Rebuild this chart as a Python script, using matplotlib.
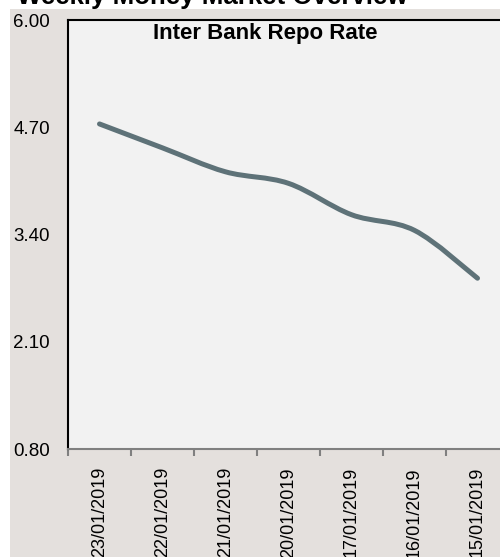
import matplotlib.pyplot as plt
from matplotlib.path import Path
from matplotlib.patches import PathPatch, Rectangle

plt.rcParams['font.family'] = ['Liberation Sans', 'DejaVu Sans']

dates = ["23/01/2019", "22/01/2019", "21/01/2019", "20/01/2019",
         "17/01/2019", "16/01/2019", "15/01/2019"]
repo_rate = [4.74, 4.45, 4.16, 4.02, 3.64, 3.45, 2.87]
y_ticks = [0.80, 2.10, 3.40, 4.70, 6.00]


def smooth_path(xs, ys):
    # Excel-style smoothed line: Catmull-Rom segments as cubic Beziers
    pts = list(zip(xs, ys))
    n = len(pts)
    verts = [pts[0]]
    codes = [Path.MOVETO]
    for i in range(n - 1):
        p0 = pts[i - 1] if i > 0 else pts[i]
        p1 = pts[i]
        p2 = pts[i + 1]
        p3 = pts[i + 2] if i + 2 < n else pts[i + 1]
        c1 = (p1[0] + (p2[0] - p0[0]) / 6, p1[1] + (p2[1] - p0[1]) / 6)
        c2 = (p2[0] - (p3[0] - p1[0]) / 6, p2[1] - (p3[1] - p1[1]) / 6)
        verts += [c1, c2, p2]
        codes += [Path.CURVE4] * 3
    return Path(verts, codes)


def main():
    fig = plt.figure(figsize=(5, 5.57), dpi=100)
    fig.patch.set_facecolor("white")
    fig.patches.append(Rectangle((10 / 500, 0), 1, 1 - 9 / 557,
                                 transform=fig.transFigure,
                                 facecolor="#e4e0dd", edgecolor="none", zorder=-10))

    ax = fig.add_axes([68 / 500, 108 / 557, 441 / 500, 429 / 557])
    ax.set_facecolor("#f2f2f2")

    xs = list(range(len(dates)))
    patch = PathPatch(smooth_path(xs, repo_rate), facecolor="none",
                      edgecolor="#5e7278", linewidth=3.6, capstyle="round",
                      joinstyle="round")
    ax.add_patch(patch)

    ax.set_xlim(-0.5, len(dates) - 0.5)
    ax.set_ylim(y_ticks[0], y_ticks[-1])

    ax.set_xticks([i - 0.5 for i in range(len(dates) + 1)])
    ax.set_xticklabels([])
    ax.set_xticks(xs, minor=True)
    ax.set_xticklabels(dates, minor=True, rotation=90, fontsize=13,
                       va="top", ha="center")
    ax.tick_params(axis="x", which="major", length=5, width=1.5,
                   color="#808080", direction="out")
    ax.tick_params(axis="x", which="minor", length=0, pad=13)

    ax.set_yticks(y_ticks)
    ax.set_yticklabels([f"{v:.2f}" for v in y_ticks], fontsize=13.5)
    ax.tick_params(axis="y", length=0, pad=13)

    for side in ["top", "left"]:
        ax.spines[side].set_color("black")
        ax.spines[side].set_linewidth(1.5)
    ax.spines["bottom"].set_color("#808080")
    ax.spines["bottom"].set_linewidth(1.5)
    ax.spines["right"].set_visible(False)

    fig.text(265 / 500, 1 - 34 / 557, "Inter Bank Repo Rate", fontsize=16,
             fontweight="bold", ha="center", va="center")
    fig.text(17 / 500, 1 - 4 / 557, "Weekly Money Market Overview",
             fontsize=18.6, fontweight="bold", ha="left", va="baseline")

    fig.savefig("out.png", dpi=100)
    plt.close(fig)


if __name__ == "__main__":
    main()
